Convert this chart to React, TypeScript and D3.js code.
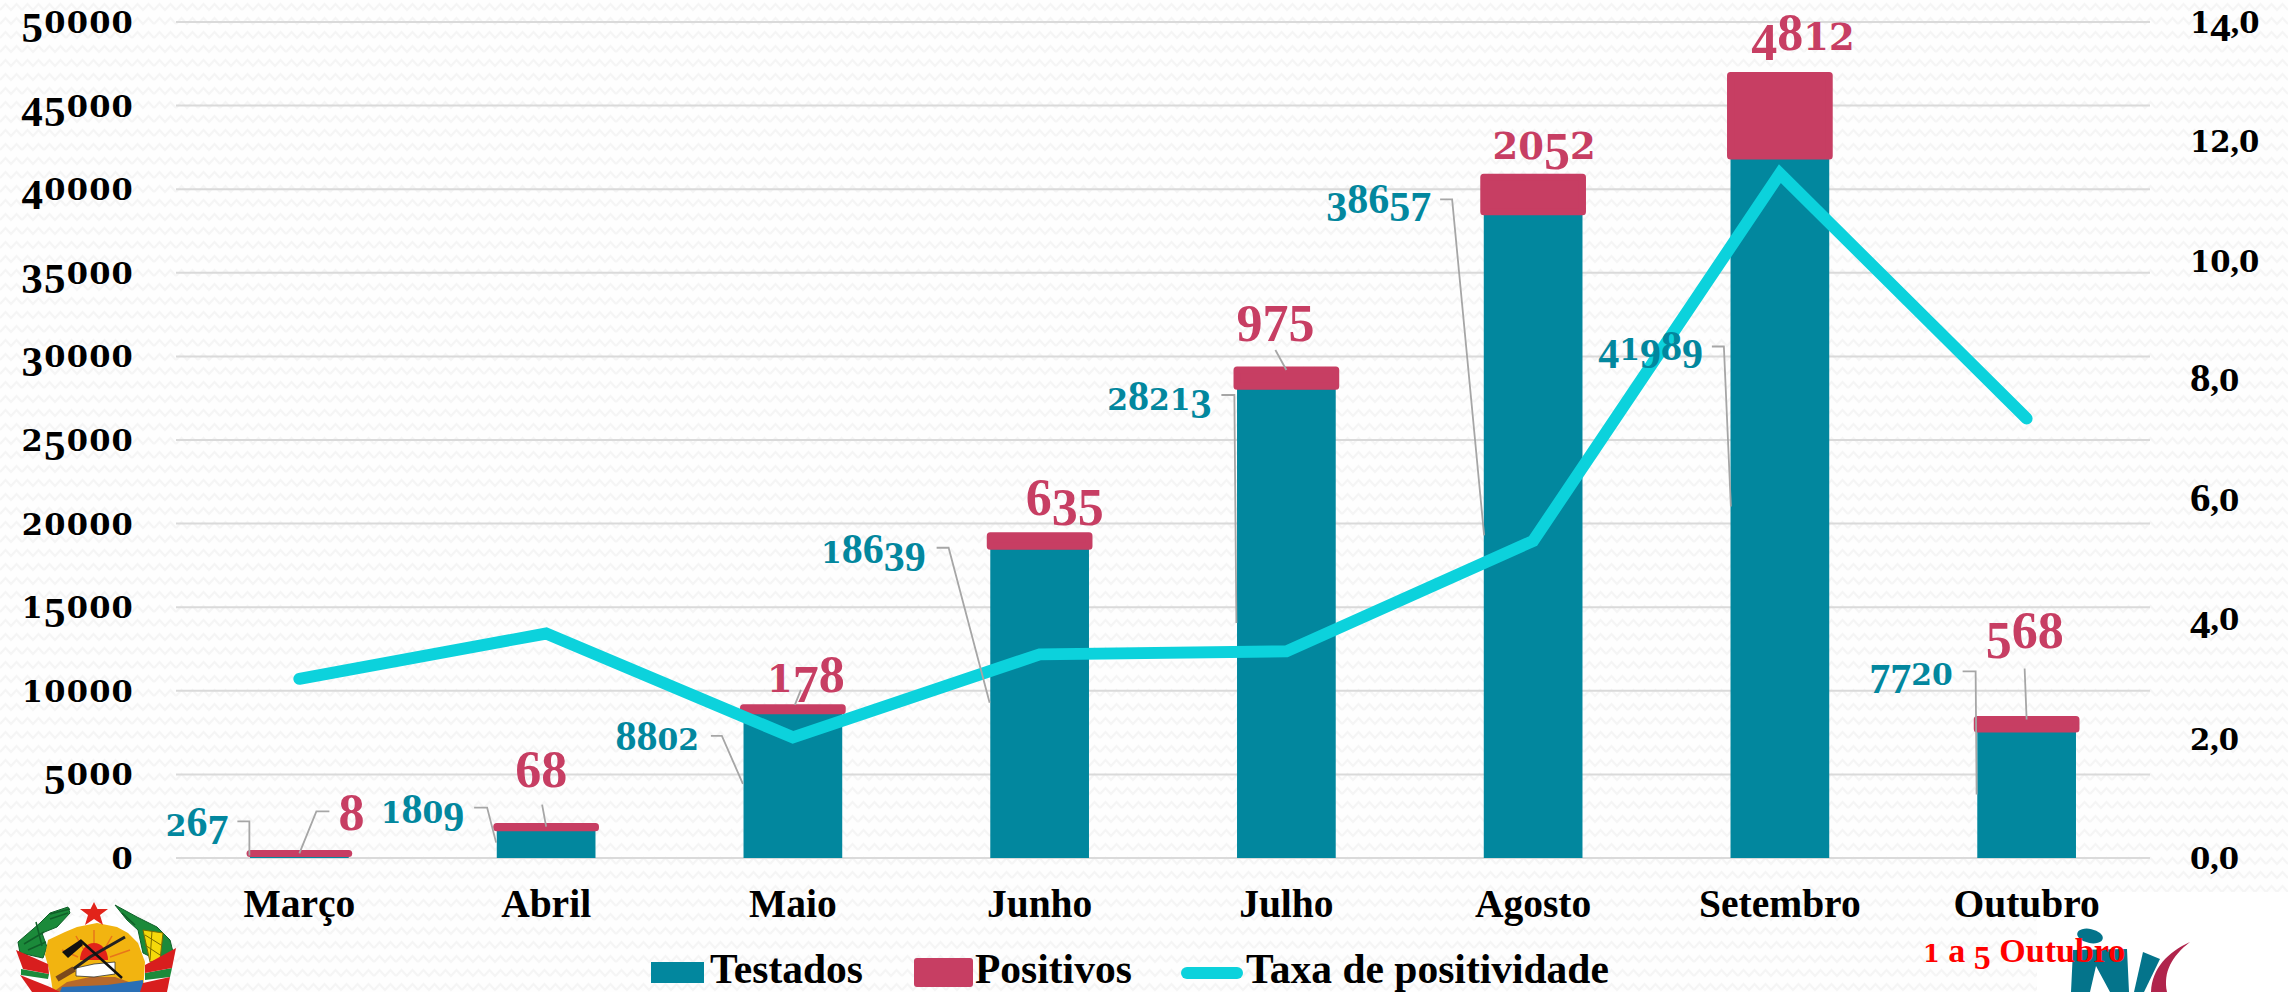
import React from 'react';
import * as d3 from 'd3';

const months = ['Março', 'Abril', 'Maio', 'Junho', 'Julho', 'Agosto', 'Setembro', 'Outubro'];
const testados = [267, 1809, 8802, 18639, 28213, 38657, 41989, 7720];
const positivos = [8, 68, 178, 635, 975, 2052, 4812, 568];
const taxa = [3.0, 3.76, 2.02, 3.41, 3.46, 5.31, 11.46, 7.36];
const leftTicks = [0, 5000, 10000, 15000, 20000, 25000, 30000, 35000, 40000, 45000, 50000];
const rightTicks = [0, 2, 4, 6, 8, 10, 12, 14];

// hand placed callouts, relative to the bar centre and the top of the stack
const testedLabelOffset = [[-71, -17], [-82, -4], [-94, 42], [-114, 27], [-75, 40], [-102, 36], [-77, 285], [-74, -34]];
const testedLeader = [
  [[-62, -32], [-50, -32], [-50, 2]],
  [[-72, -19], [-59, -19], [-50, 16]],
  [[-82, 28], [-71, 28], [-50, 76]],
  [[-103, 12], [-91, 12], [-50, 167]],
  [[-65, 25], [-52, 25], [-50, 253]],
  [[-93, 22], [-81, 22], [-49, 358]],
  [[-68, 271], [-56, 271], [-49, 431]],
  [[-64, -48], [-51, -48], [-50, 75]],
];
const positiveLabelOffset = [[52, -23], [-5, -40], [13, -16], [25, -21], [-11, -39], [11, -18], [23, -25], [-2, -71]];
const positiveLeader = [
  [[30, -42], [17, -42], [0, 0]],
  [[-4, -22], [0, 0]],
  [[8, -18], [2, -3]],
  null,
  [[-11, -20], [0, 0]],
  null,
  null,
  [[-2, -51], [0, 0]],
];

const TEAL = '#02879e';
const PINK = '#c73e63';
const CYAN = '#0cd2dc';
const GRID = '#dadada';
const LEADER = '#a6a6a6';
const SERIF = '"Liberation Serif", serif';
const WIDE = '"DejaVu Serif", serif';

const x = d3.scaleBand<string>().domain(months).range([176, 2150]).paddingInner(0.6).paddingOuter(0.3);
const yLeft = d3.scaleLinear().domain([0, 50000]).range([858, 22]);
const yRight = d3.scaleLinear().domain([0, 14]).range([858, 22]);
const rows = months.map((m, i) => ({ month: m, testados: testados[i], positivos: positivos[i] }));
const stacked = d3.stack<any>().keys(['testados', 'positivos'])(rows);
const taxaLine = d3.line<number>()
  .x((_, i) => x(months[i])! + x.bandwidth() / 2)
  .y(d => yRight(d));
const leaderLine = d3.line();

// imitates old style figures: 0 1 2 sit at x-height, 3 4 5 7 9 hang below the line
function Figures({ text, size }: { text: string; size: number }) {
  return (
    <>
      {text.split('').map((ch, i) => {
        if ('012'.includes(ch)) {
          return <tspan key={i} fontFamily={WIDE} fontSize={size * 0.71}>{ch}</tspan>;
        }
        if ('34579'.includes(ch)) {
          return <tspan key={i} style={{ baselineShift: `${-size * 0.2}px` }}>{ch}</tspan>;
        }
        if (ch === ',') {
          return <tspan key={i} fontSize={size * 0.82}>{ch}</tspan>;
        }
        return <tspan key={i}>{ch}</tspan>;
      })}
    </>
  );
}

function Emblem() {
  return (
    <g>
      <path d="M72 915 L97 923 L115 913 L137 935 L48 940 Z" fill="#ffffff" />
      <path d="M68 907 L50 913 L40 923 L18 942 L20 953 L43 958 L47 947 L42 933 L57 927 L70 913 Z" fill="#1b8a3a" stroke="#0f5f28" strokeWidth={1} />
      <path d="M115 905 L137 917 L157 927 L170 940 L173 952 L157 960 L143 953 L138 930 L127 920 Z" fill="#1b8a3a" stroke="#0f5f28" strokeWidth={1} />
      <path d="M24 944 L44 932 M28 950 L46 942 M36 922 L42 946 M122 913 L135 925 M50 914 L70 909 M50 919 L68 913" stroke="#0f5f28" strokeWidth={1.5} fill="none" />
      <path d="M143 930 L163 933 L160 960 L150 962 Z" fill="#f5d90a" stroke="#7a6b00" strokeWidth={1} />
      <path d="M145 935 L161 945 M145 945 L160 955 M152 931 L150 960" stroke="#7a6b00" strokeWidth={1} fill="none" />
      <path d="M97 923 L77 927 L65 932 L48 940 L45 955 L50 973 L53 992 L143 992 L145 962 L138 943 L128 933 L117 927 Z" fill="#f2b410" />
      <path d="M94 948 L94 930 M84 950 L76 936 M104 950 L112 936 M78 957 L62 950 M110 957 L130 950" stroke="#e8751a" strokeWidth={1.5} fill="none" />
      <path d="M80 960 A14 17 0 0 1 108 960 Z" fill="#e2231a" />
      <path d="M53 992 L67 982 L90 977 L115 977 L143 987 L143 992 Z" fill="#b8692a" />
      <path d="M60 992 L62 987 L107 985 L143 980 L143 992 Z" fill="#2a6fb5" />
      <path d="M76 968 L94 964 L115 962 L115 974 L94 977 L76 976 Z" fill="#ffffff" stroke="#333333" strokeWidth={0.8} />
      <path d="M72 970 L90 957 L125 937" stroke="#222222" strokeWidth={3} fill="none" />
      <path d="M57 979 L74 969" stroke="#7a4a1c" strokeWidth={6} fill="none" />
      <path d="M80 940 L122 978" stroke="#111111" strokeWidth={2.5} fill="none" />
      <path d="M62 952 L80 940 L83 945 L68 958 Z" fill="#111111" />
      <path d="M94 902 L97.5 909 L108 909 L100 915 L103 925 L94 919 L85 925 L88 915 L80 909 L90.5 909 Z" fill="#e2231a" />
      <path d="M21 969 L49 974 L48 979 L21 975 Z" fill="#1b8a3a" />
      <path d="M145 973 L172 968 L170 977 L145 980 Z" fill="#1b8a3a" />
      <path d="M16 950 L48 964 L49 974 L23 969 Z" fill="#d81e1e" />
      <path d="M20 975 L50 987 L60 992 L32 992 Z" fill="#d81e1e" />
      <path d="M176 948 L145 965 L145 973 L172 968 Z" fill="#d81e1e" />
      <path d="M170 977 L143 983 L140 992 L167 992 Z" fill="#d81e1e" />
    </g>
  );
}

function Logo() {
  return (
    <g>
      <ellipse cx={2090} cy={936} rx={13} ry={7} fill="#04748b" transform="rotate(12 2090 936)" />
      <path d="M2073 950 L2127 949 L2129 992 L2110 992 L2096 966 L2090 992 L2071 992 Z" fill="#04748b" />
      <path d="M2143 952 L2160 959 L2144 992 L2134 992 Z" fill="#04748b" />
      <path d="M2190 942 C2168 952 2152 968 2151 992 L2167 992 C2163 972 2172 956 2190 942 Z" fill="#b0244c" />
    </g>
  );
}

export default function App() {
  const band = x.bandwidth();
  return (
    <svg width={2288} height={992} style={{ position: 'absolute', left: 0, top: 0, display: 'block' }}>
      <defs>
        <pattern id="zig" width={22} height={14} patternUnits="userSpaceOnUse">
          <rect width={22} height={14} fill="#fefefe" />
          <path d="M0 10 L5.5 4 L11 10 L16.5 4 L22 10" fill="none" stroke="#f5f5f5" strokeWidth={2} />
        </pattern>
      </defs>
      <rect width={2288} height={992} fill="url(#zig)" />
      <rect x={2037} y={892} width={251} height={100} fill="#ffffff" />

      {leftTicks.map(t => (
        <line key={t} x1={176} x2={2150} y1={yLeft(t)} y2={yLeft(t)} stroke={GRID} strokeWidth={2} />
      ))}

      {stacked[0].map((d, i) => (
        <rect key={months[i]} x={x(months[i])} width={band} y={yLeft(d[1])} height={yLeft(d[0]) - yLeft(d[1])} fill={TEAL} />
      ))}
      {stacked[1].map((d, i) => (
        <rect key={months[i]} x={x(months[i])} width={band} y={yLeft(d[1])} height={yLeft(d[0]) - yLeft(d[1])}
          fill={PINK} stroke={PINK} strokeWidth={7} strokeLinejoin="round" />
      ))}

      <path d={taxaLine(taxa)!} fill="none" stroke={CYAN} strokeWidth={12} strokeLinecap="round" strokeLinejoin="miter" />

      <g fill="none" stroke={LEADER} strokeWidth={1.8}>
        {months.map((m, i) => {
          const cx = x(m)! + band / 2;
          const top = yLeft(stacked[1][i][1]);
          const move = (p: number[]) => [cx + p[0], top + p[1]] as [number, number];
          const second = positiveLeader[i];
          return (
            <g key={m}>
              <path d={leaderLine(testedLeader[i].map(move))!} />
              {second && <path d={leaderLine(second.map(move))!} />}
            </g>
          );
        })}
      </g>

      <g fontFamily={SERIF} fontWeight="bold">
        {months.map((m, i) => {
          const cx = x(m)! + band / 2;
          const top = yLeft(stacked[1][i][1]);
          return (
            <g key={m}>
              <text x={cx + testedLabelOffset[i][0]} y={top + testedLabelOffset[i][1]} fontSize={42} fill={TEAL} textAnchor="end">
                <Figures text={String(testados[i])} size={42} />
              </text>
              <text x={cx + positiveLabelOffset[i][0]} y={top + positiveLabelOffset[i][1]} fontSize={52} fill={PINK} textAnchor="middle">
                <Figures text={String(positivos[i])} size={52} />
              </text>
              <text x={cx} y={917} fontSize={39.5} fill="#000000" textAnchor="middle">{m}</text>
            </g>
          );
        })}

        {leftTicks.map(t => (
          <text key={t} x={134} y={yLeft(t) + 11} fontSize={43} letterSpacing={1.2} fill="#000000" textAnchor="end">
            <Figures text={String(t)} size={43} />
          </text>
        ))}
        {rightTicks.map(t => (
          <text key={t} x={2190} y={yRight(t) + 11} fontSize={41} fill="#000000">
            <Figures text={d3.format('.1f')(t).replace('.', ',')} size={41} />
          </text>
        ))}

        <rect x={651} y={962} width={53} height={21} fill={TEAL} />
        <text x={710} y={983} fontSize={41.5} fill="#000000">Testados</text>
        <rect x={917} y={961} width={53} height={23} fill={PINK} stroke={PINK} strokeWidth={6} strokeLinejoin="round" />
        <text x={975} y={983} fontSize={41.5} fill="#000000">Positivos</text>
        <line x1={1187} x2={1237} y1={973} y2={973} stroke={CYAN} strokeWidth={12} strokeLinecap="round" />
        <text x={1246} y={983} fontSize={41.5} fill="#000000">Taxa de positividade</text>
      </g>

      <Emblem />
      <Logo />

      <text x={1923} y={962} fontFamily={SERIF} fontWeight="bold" fontSize={34} fill="#ff0000">
        <Figures text="1" size={34} /> a <Figures text="5" size={34} /> Outubro
      </text>
    </svg>
  );
}
